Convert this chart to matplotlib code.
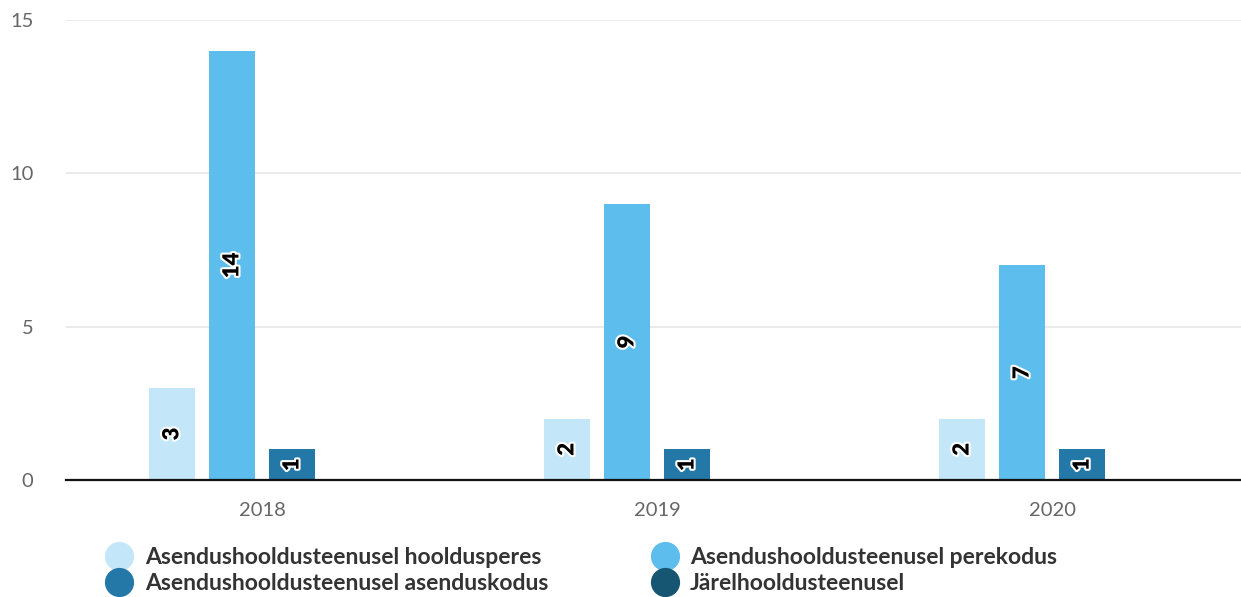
import matplotlib
matplotlib.use("Agg")
from matplotlib import pyplot as plt
import matplotlib.patheffects as pe
import numpy as np

years = ["2018", "2019", "2020"]
series = [
    "Asendushooldusteenusel hooldusperes",
    "Asendushooldusteenusel perekodus",
    "Asendushooldusteenusel asenduskodus",
    "Järelhooldusteenusel",
]
hooldusperes = [3, 2, 2]
perekodus = [14, 9, 7]
asenduskodus = [1, 1, 1]
jarelhooldus = [0, 0, 0]
values = [hooldusperes, perekodus, asenduskodus, jarelhooldus]
colors = ["#c3e7f8", "#5dbdec", "#2478a8", "#165673"]

plt.rcParams["font.family"] = ["Lato", "DejaVu Sans"]

W, H = 1241, 597
fig = plt.figure(figsize=(W / 100, H / 100), dpi=100)
ax = fig.add_axes([66 / W, (H - 480) / H, (W - 66) / W, 460 / H])

x = np.arange(len(years))
width = 0.1165
pitch = 0.152
for i, (name, vals) in enumerate(zip(series, values)):
    pos = x + (i - 1.5) * pitch
    bars = ax.bar(pos, vals, width, color=colors[i], label=name, zorder=2)
    for b, v in zip(bars, vals):
        if v == 0:
            continue
        ax.text(b.get_x() + b.get_width() / 2, v / 2, str(v), rotation=90,
                ha="center", va="center", fontsize=16, fontweight="heavy",
                color="black", zorder=3,
                path_effects=[pe.withStroke(linewidth=3, foreground="white")])

ax.set_xlim(-0.496, 2.478)
ax.set_ylim(0, 15)
ax.set_yticks([0, 5, 10, 15])
ax.set_xticks(x)
ax.set_xticklabels(years)
ax.yaxis.grid(True, color="#e6e6e6", linewidth=1.2, zorder=0)
ax.set_axisbelow(True)
for s in ["top", "right", "left"]:
    ax.spines[s].set_visible(False)
ax.spines["bottom"].set_color("#111111")
ax.spines["bottom"].set_linewidth(1.6)
ax.spines["bottom"].set_zorder(4)
ax.tick_params(axis="y", length=0, pad=23.5, labelsize=14.5, labelcolor="#666666")
ax.tick_params(axis="x", length=0, pad=16, labelsize=14.5, labelcolor="#666666")

handles = [plt.Line2D([], [], marker="o", linestyle="", markersize=20,
                      color=c) for c in colors]
order = [0, 2, 1, 3]
leg = fig.legend([handles[i] for i in order], [series[i] for i in order],
                 ncol=2, loc="upper left", bbox_to_anchor=(108 / W, 1 - 547 / H),
                 frameon=False, fontsize=16.5, handletextpad=0.6,
                 columnspacing=4.6, labelspacing=0.2, handlelength=1.0,
                 borderaxespad=0, borderpad=0)
for t in leg.get_texts():
    t.set_color("#333333")
    t.set_fontweight("bold")

fig.savefig("out.png", dpi=100)
